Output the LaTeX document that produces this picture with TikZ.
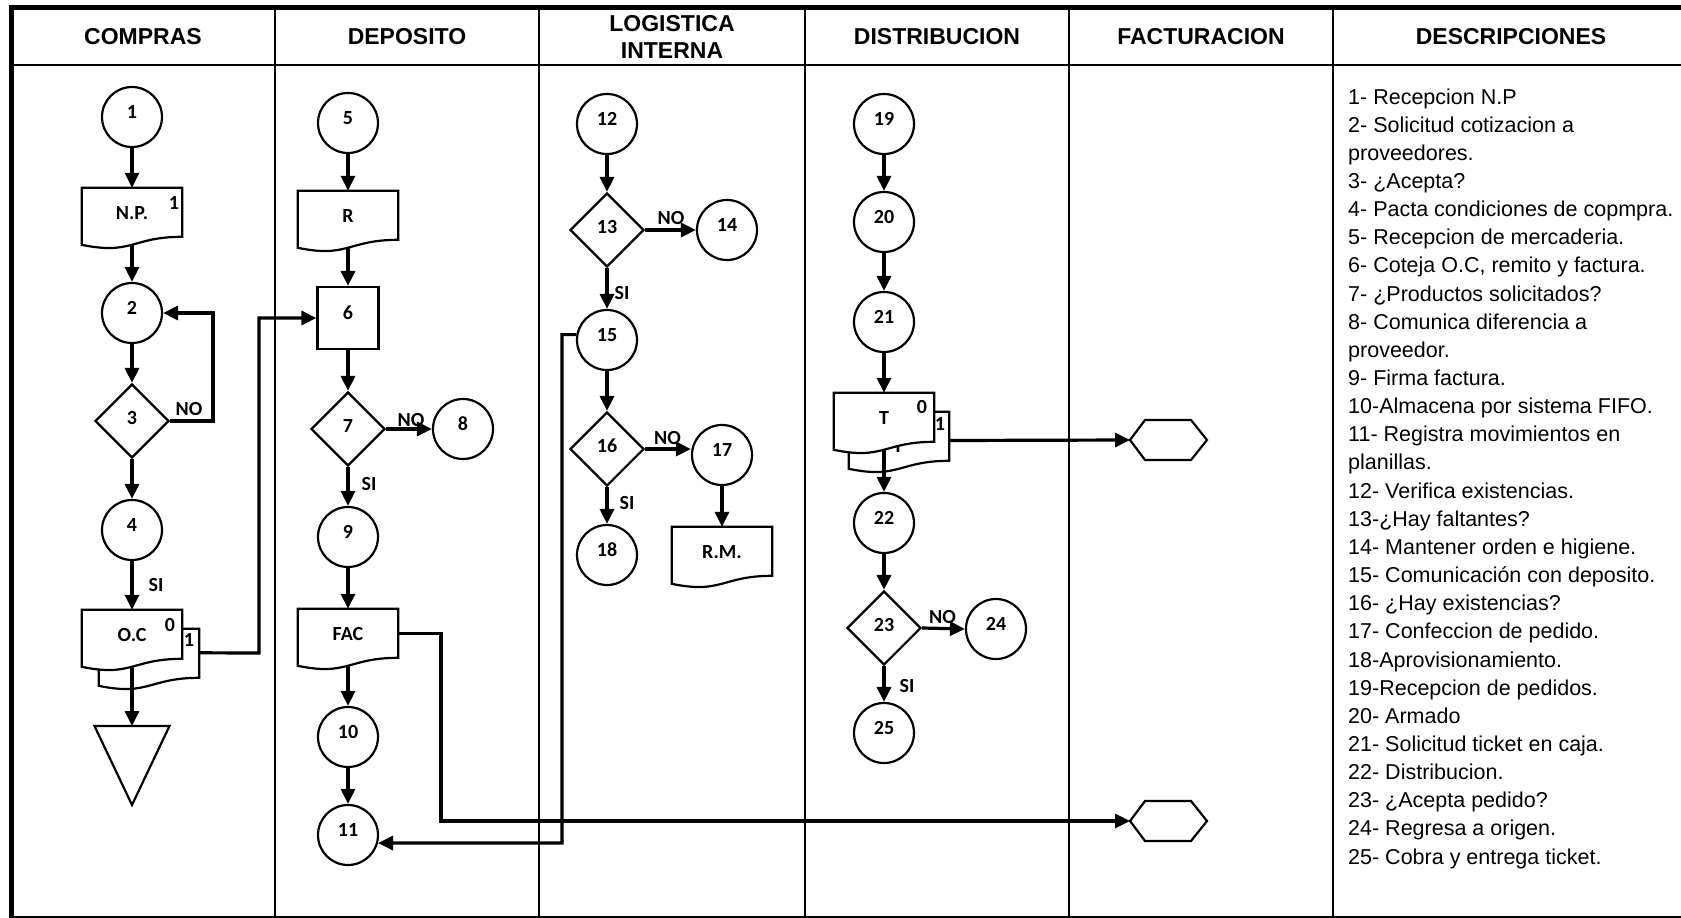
\documentclass[tikz,border=0pt]{standalone}
\usepackage{fontspec}
\setmainfont{Liberation Sans}
\newfontfamily\calibri{Carlito}
\usetikzlibrary{calc,shapes.geometric,arrows.meta}

% contorno de documento con borde inferior ondulado
\newcommand{\docline}[1]{%
  \draw[trazo, fill=white] (#1.north west) -- (#1.north east)
    -- ($(#1.north east)+(0,49)$)
    .. controls ($(#1.north)+(0,49)$) and ($(#1.north)+(0,67.5)$) .. ($(#1.north west)+(0,57)$)
    -- cycle;}

\tikzset{
  trazo/.style={line width=2.2pt},
  flecha/.style={line width=3.2pt, -{Triangle[length=15pt,width=14pt]}},
  rotulo/.style={font=\calibri\bfseries\fontsize{20}{24}\selectfont, inner sep=0pt},
  etapa/.style={rotulo, circle, draw, trazo, minimum size=60pt, text depth=10pt},
  decision/.style={rotulo, diamond, draw, trazo, aspect=1, minimum width=74pt, minimum height=74pt, text depth=6pt},
  tarea/.style={rotulo, rectangle, draw, trazo, minimum width=61pt, minimum height=62pt, text depth=10pt},
  docu/.style={rectangle, inner sep=0pt, minimum width=100pt, minimum height=57pt},
  doctexto/.style={rotulo, text depth=7pt},
  encabezado/.style={font=\bfseries\fontsize{23}{27.5}\selectfont, align=center, inner sep=0pt},
  texto/.style={font=\fontsize{21.5}{28}\selectfont, anchor=base west, inner sep=0pt},
}

\begin{document}
\begin{tikzpicture}[x=1pt,y=-1pt]
\path[use as bounding box, fill=white] (0,0) rectangle (1681,918);
% marco y columnas
\draw[line width=5pt] (11,918) -- (11,7.5) -- (1681,7.5);
\draw[line width=2pt] (11,65) -- (1681,65);
\draw[line width=2pt] (11,917) -- (1681,917);
\foreach \x in {275,539,805,1069,1333}
  \draw[line width=2pt] (\x,7.5) -- (\x,917);

\node[encabezado] (h-compras) at (143,37) {COMPRAS};
\node[encabezado] (h-deposito) at (407,37) {DEPOSITO};
\node[encabezado] (h-logistica) at (672,37) {LOGISTICA\\INTERNA};
\node[encabezado] (h-distrib) at (937,37) {DISTRIBUCION};
\node[encabezado] (h-factura) at (1201,37) {FACTURACION};
\node[encabezado] (h-descrip) at (1511,37) {DESCRIPCIONES};

% descripciones
\foreach \linea [count=\i from 0] in {
  {1- Recepcion N.P},
  {2- Solicitud cotizacion a},
  {proveedores.},
  {3- ¿Acepta?},
  {4- Pacta condiciones de copmpra.},
  {5- Recepcion de mercaderia.},
  {6- Coteja O.C, remito y factura.},
  {7- ¿Productos solicitados?},
  {8- Comunica diferencia a},
  {proveedor.},
  {9- Firma factura.},
  {10-Almacena por sistema FIFO.},
  {11- Registra movimientos en},
  {planillas.},
  {12- Verifica existencias.},
  {13-¿Hay faltantes?},
  {14- Mantener orden e higiene.},
  {15- Comunicación con deposito.},
  {16- ¿Hay existencias?},
  {17- Confeccion de pedido.},
  {18-Aprovisionamiento.},
  {19-Recepcion de pedidos.},
  {20- Armado},
  {21- Solicitud ticket en caja.},
  {22- Distribucion.},
  {23- ¿Acepta pedido?},
  {24- Regresa a origen.},
  {25- Cobra y entrega ticket.}}
  \node[texto] (desc-\i) at (1348,104+28.15*\i) {\linea};

% COMPRAS
\node[etapa] (c1) at (132,117) {1};
\node[docu] (np) at (132,216.5) {};
\docline{np}
\node[doctexto] (np-t) at (np) {N.P.};
\node[rotulo] (np-n) at (174,203) {1};
\node[etapa] (c2) at (132,313) {2};
\node[decision] (d3) at (132,421) {3};
\node[etapa] (c4) at (132,530) {4};
\node[docu] (oc-b) at (149,657.5) {};
\docline{oc-b}
\node[docu] (oc) at (132,638.5) {};
\docline{oc}
\node[doctexto] (oc-t) at (oc) {O.C};
\node[rotulo] (oc-n0) at (170,625) {0};
\node[rotulo] (oc-n1) at (189,640) {1};
\draw[trazo] (94.5,726) -- (169.5,726) -- (132,805) -- cycle;
\coordinate (archivo) at (132,726);
\node[rotulo] (no3) at (189,409) {NO};
\node[rotulo] (si4) at (156,585) {SI};

% DEPOSITO
\node[etapa] (c5) at (348,123) {5};
\node[docu] (r) at (348,219.5) {};
\docline{r}
\node[doctexto] (r-t) at (r) {R};
\node[tarea] (b6) at (348,318) {6};
\node[decision] (d7) at (348,429) {7};
\node[etapa] (c8) at (463,429) {8};
\node[etapa] (c9) at (348,537) {9};
\node[docu] (fac) at (348,637.5) {};
\docline{fac}
\node[doctexto] (fac-t) at (fac) {FAC};
\node[etapa] (c10) at (348,737) {10};
\node[etapa] (c11) at (348,835) {11};
\node[rotulo] (no7) at (411,420) {NO};
\node[rotulo] (si7) at (369,484) {SI};

% LOGISTICA INTERNA
\node[etapa] (c12) at (607,124) {12};
\node[decision] (d13) at (607,230) {13};
\node[etapa] (c14) at (727,230) {14};
\node[etapa] (c15) at (607,340) {15};
\node[decision] (d16) at (607,449) {16};
\node[etapa] (c17) at (722,455) {17};
\node[etapa] (c18) at (607,555) {18};
\node[docu] (rm) at (722,555.5) {};
\docline{rm}
\node[doctexto] (rm-t) at (rm) {R.M.};
\node[rotulo] (no13) at (671,218) {NO};
\node[rotulo] (si13) at (622,293) {SI};
\node[rotulo] (no16) at (667.5,438) {NO};
\node[rotulo] (si16) at (627,503) {SI};

% DISTRIBUCION
\node[etapa] (c19) at (884,124) {19};
\node[etapa] (c20) at (884,222) {20};
\node[etapa] (c21) at (884,322) {21};
\node[docu] (t-b) at (899,440.5) {};
\docline{t-b}
\node[doctexto] (t-b-t) at (898,450) {T};
\node[docu] (t) at (884,421.5) {};
\docline{t}
\node[doctexto] (t-t) at (t) {T};
\node[rotulo] (t-n0) at (922,407) {0};
\node[rotulo] (t-n1) at (940,424) {1};
\node[etapa] (c22) at (884,523) {22};
\node[decision] (d23) at (884,628) {23};
\node[etapa] (c24) at (996,629) {24};
\node[etapa] (c25) at (884,733) {25};
\node[rotulo] (no23) at (942.5,617) {NO};
\node[rotulo] (si23) at (907,686) {SI};

% FACTURACION: conectores de salida
\coordinate (hx1) at (1130,440);
\coordinate (hx2) at (1130,821);
\draw[trazo] (hx1) -- ++(15,-20) -- ++(46,0) -- ++(16,20) -- ++(-16,20) -- ++(-46,0) -- cycle;
\draw[trazo] (hx2) -- ++(15,-20) -- ++(46,0) -- ++(16,20) -- ++(-16,20) -- ++(-46,0) -- cycle;

% flujo
\draw[flecha] (c1) -- (np);
\draw[flecha] (np) -- (c2);
\draw[flecha] (c2) -- (d3);
\draw[flecha] (d3.east) -- (213,421) |- (c2.east);
\draw[flecha] (d3) -- (c4);
\draw[flecha] (c4) -- (oc);
\draw[flecha] (oc) -- (archivo);
\draw[flecha] ($(oc-b.north east)+(0,24)$) -- (259,653) |- (b6.west);

\draw[flecha] (c5) -- (r);
\draw[flecha] (r) -- (b6);
\draw[flecha] (b6) -- (d7);
\draw[flecha] (d7.east) -- (c8.west);
\draw[flecha] (d7) -- (c9);
\draw[flecha] (c9) -- (fac);
\draw[flecha] (fac) -- (c10);
\draw[flecha] (c10) -- (c11);
\draw[flecha] ($(fac.north east)+(0,25)$) -| (441,821) -- (hx2);

\draw[flecha] (c12) -- (d13);
\draw[flecha] (d13.east) -- (c14.west);
\draw[flecha] (d13) -- (c15);
\draw[flecha] (c15) -- (d16);
\draw[flecha] (d16.east) -- (d16.east -| c17.west);
\draw[flecha] (d16) -- (c18);
\draw[flecha] (c17) -- (rm);
\draw[flecha] (c15.170) -| (562,843) -- (c11.345);

\draw[flecha] (c19) -- (c20);
\draw[flecha] (c20) -- (c21);
\draw[flecha] (c21) -- (t);
\draw[flecha] (t) -- (c22);
\draw[flecha] (t-b.east) -- (hx1);
\draw[flecha] (c22) -- (d23);
\draw[flecha] (d23.east) -- (c24.west);
\draw[flecha] (d23) -- (c25);
\end{tikzpicture}
\end{document}
